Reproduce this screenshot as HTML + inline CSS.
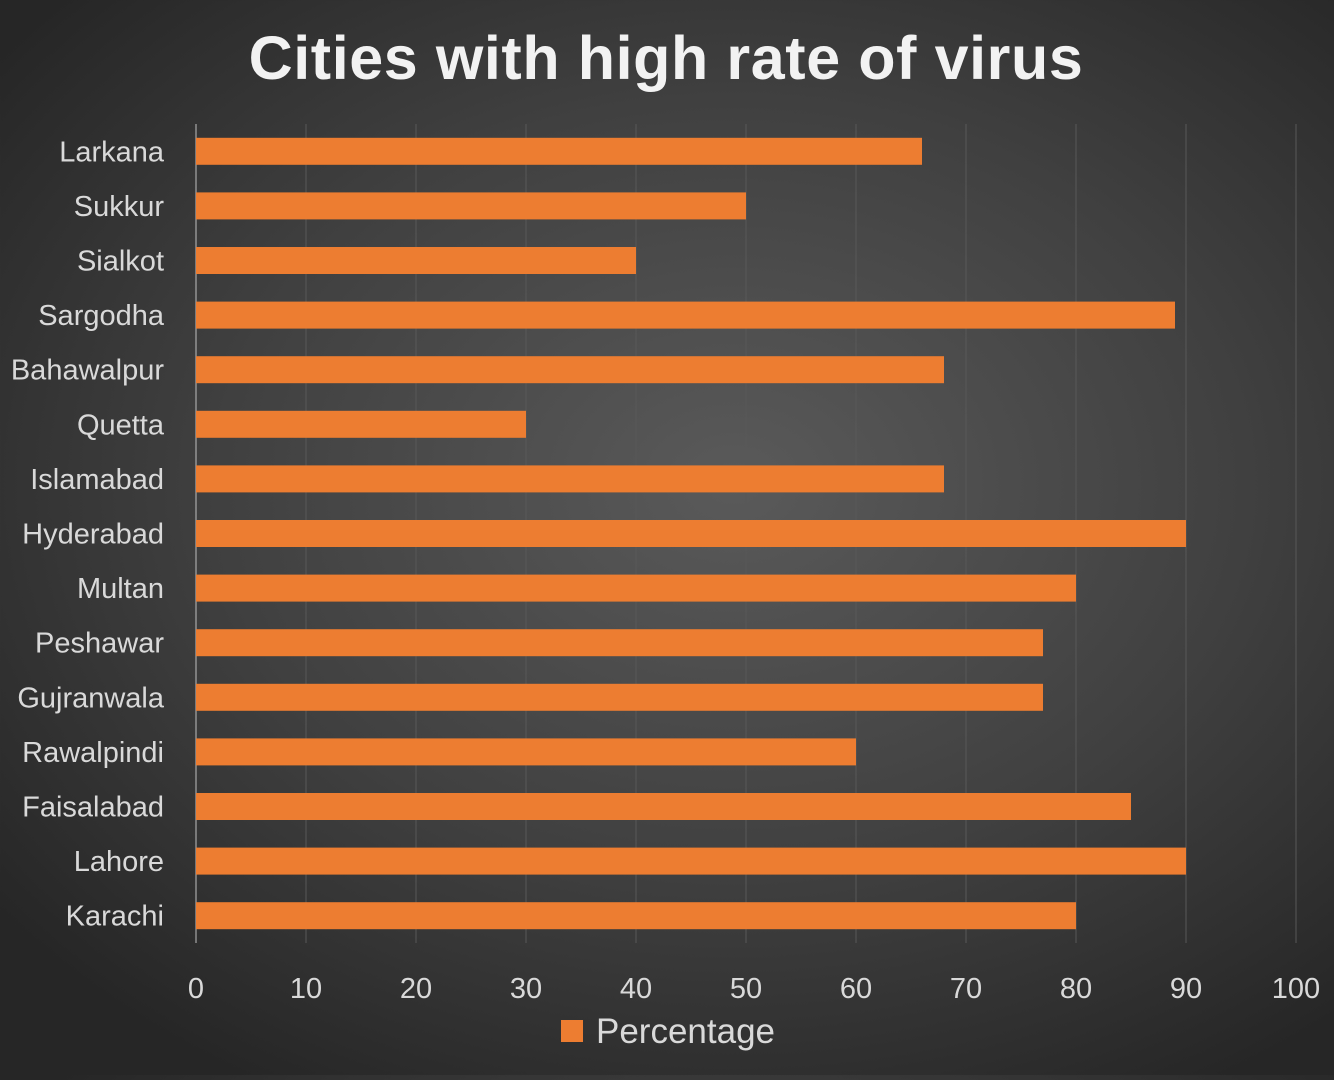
<!DOCTYPE html>
<html><head><meta charset="utf-8"><style>
html,body{margin:0;padding:0;}
body{width:1334px;height:1075px;overflow:hidden;background:radial-gradient(ellipse 70% 65% at 55% 45%,#5a5a5a 0%,#404040 55%,#262626 100%);font-family:"Liberation Sans",sans-serif;}
</style></head><body>
<svg id="chart" width="1334" height="1075" xmlns="http://www.w3.org/2000/svg">
<text x="666" y="79" text-anchor="middle" font-family="Liberation Sans, sans-serif" font-weight="bold" font-size="61" letter-spacing="0.6" fill="#f2f2f2">Cities with high rate of virus</text>
<g id="grid"></g><g id="bars"></g><g id="ylabels"></g><g id="xlabels"></g>
<rect x="561" y="1020" width="22" height="22" fill="#ed7d31"/>
<text x="596" y="1043" font-size="35" fill="#d9d9d9">Percentage</text>
</svg>
<script>
const categories=["Larkana","Sukkur","Sialkot","Sargodha","Bahawalpur","Quetta","Islamabad","Hyderabad","Multan","Peshawar","Gujranwala","Rawalpindi","Faisalabad","Lahore","Karachi"];
const values=[66,50,40,89,68,30,68,90,80,77,77,60,85,90,80];
const xTicks=[0,10,20,30,40,50,60,70,80,90,100];
const NS="http://www.w3.org/2000/svg";
const px0=196,px1=1296,plotTop=124,plotBottom=943;
function xs(v){return px0+(v/100)*(px1-px0);}
const step=(plotBottom-plotTop)/categories.length;
function yc(i){return plotTop+step*(i+0.5);}
function mk(tag,attrs,parent){const e=document.createElementNS(NS,tag);for(const k in attrs)e.setAttribute(k,attrs[k]);document.getElementById(parent).appendChild(e);return e;}
xTicks.forEach(t=>{
 const l=mk('line',{x1:xs(t),x2:xs(t),y1:plotTop,y2:plotBottom,stroke:t===0?'#bfbfbf':'#585858','stroke-width':1},'grid');
 
 
 const tx=mk('text',{x:xs(t),y:998,'text-anchor':'middle','font-size':29,fill:'#d9d9d9'},'xlabels');
 tx.textContent=t;
 
 
});
categories.forEach((c,i)=>{
 const r=mk('rect',{x:xs(0),y:yc(i)-13.5,width:xs(values[i])-xs(0),height:27,fill:'#ed7d31'},'bars');
 
 
 const tx=mk('text',{x:164,y:yc(i)+10,'text-anchor':'end','font-size':29,fill:'#d9d9d9'},'ylabels');
 tx.textContent=c;
 
 
});
</script>
</body></html>
